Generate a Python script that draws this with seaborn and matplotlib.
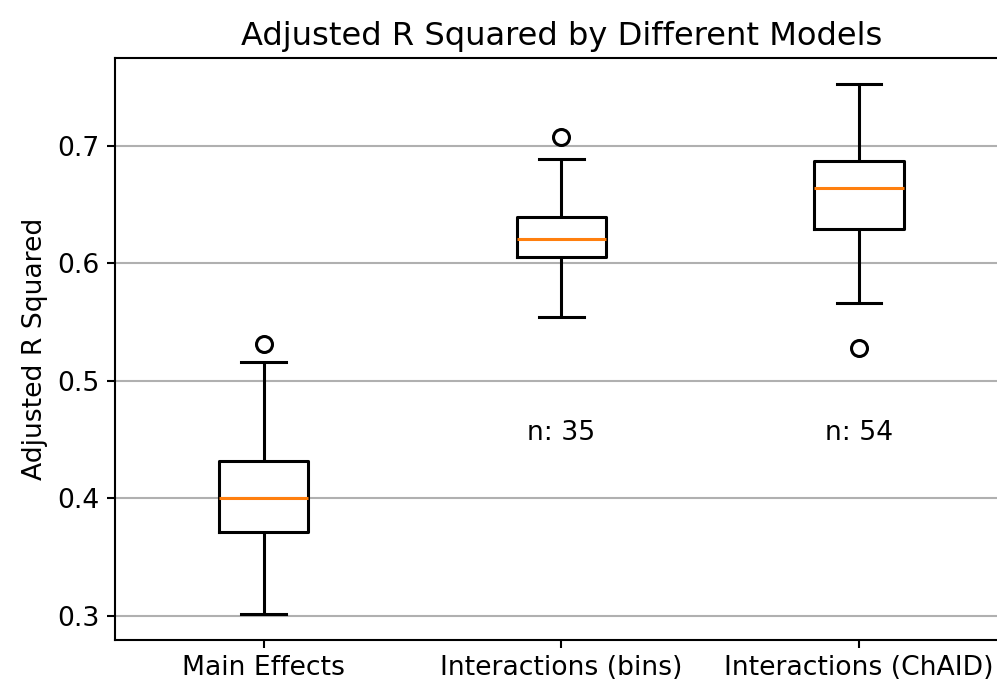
import pandas as pd
import matplotlib
matplotlib.use("Agg")
import matplotlib.pyplot as plt
import seaborn as sns

# Values (sorted per model; quartiles land on ranks 3/5/7)
models = ["Main Effects", "Interactions (bins)", "Interactions (ChAID)"]
main_effects = [0.302, 0.340, 0.371, 0.386, 0.400, 0.415, 0.432, 0.516, 0.531]
inter_bins = [0.554, 0.580, 0.605, 0.612, 0.6205, 0.630, 0.639, 0.689, 0.707]
inter_chaid = [0.528, 0.566, 0.629, 0.646, 0.664, 0.675, 0.687, 0.720, 0.752]
n_labels = ["", "n: 35", "n: 54"]
n_label_y = 0.45

df = pd.DataFrame({
    "Model": [models[0]] * len(main_effects) + [models[1]] * len(inter_bins)
             + [models[2]] * len(inter_chaid),
    "Adjusted R Squared": main_effects + inter_bins + inter_chaid,
})

FS = 19.2   # tick / label font size
LW = 2.2    # box line width
plt.rcParams["font.family"] = ["DejaVu Sans"]
plt.rcParams["font.size"] = FS

fig = plt.figure(figsize=(9.97, 6.87), dpi=100)
# the reference is cropped on the right, so the axes run past the figure edge
ax = fig.add_axes([0.1153, 0.0684, 0.8957, 0.8472])

sns.boxplot(data=df, x="Model", y="Adjusted R Squared", order=models, ax=ax,
            width=0.3, fill=False, color="black", linewidth=LW,
            medianprops={"color": "#ff7f0e", "linewidth": LW},
            flierprops={"marker": "o", "markerfacecolor": "none",
                        "markeredgecolor": "black", "markersize": 11.5,
                        "markeredgewidth": LW})

for i, lab in enumerate(n_labels):
    if lab:
        ax.text(i, n_label_y, lab, ha="center", fontsize=FS)

ax.set_xlim(-0.5, 2.5)
ax.set_axisbelow(True)
ax.yaxis.grid(True, color="#b0b0b0", linewidth=1.5)
for sp in ax.spines.values():
    sp.set_linewidth(1.5)
ax.spines["right"].set_visible(False)
ax.tick_params(labelsize=FS, length=6, width=1.5, pad=5)
ax.set_xlabel("")
ax.set_ylabel("Adjusted R Squared", fontsize=FS, labelpad=7)
ax.set_title("Adjusted R Squared by Different Models", fontsize=23.1, pad=9)

fig.savefig("out.png", dpi=100)
